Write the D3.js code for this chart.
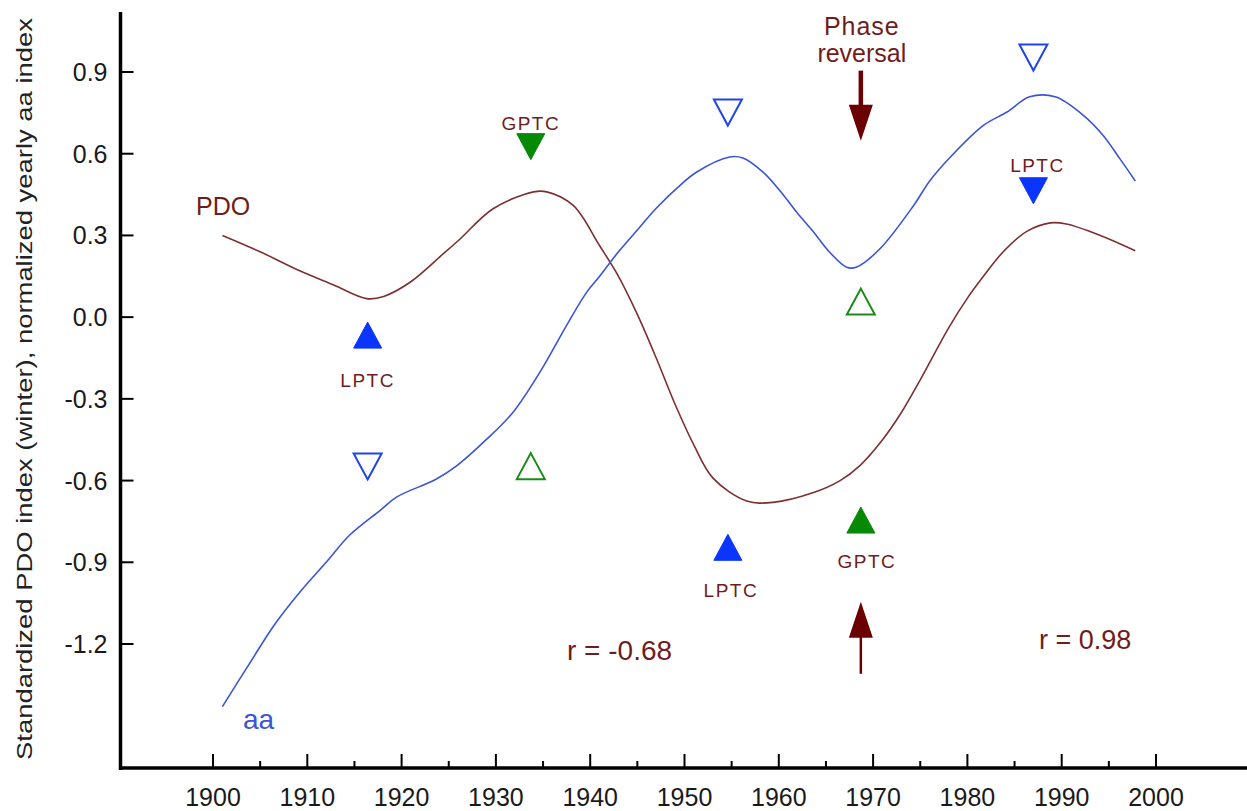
<!DOCTYPE html>
<html>
<head>
<meta charset="utf-8">
<script src="https://d3js.org/d3.v7.min.js"></script>
<style>
  body { margin: 0; background: white; }
  text { font-family: "Liberation Sans", Arial, sans-serif; }
</style>
</head>
<body>
<script>
var width = 1247;
var height = 811;

// PDO (winter), smoothed
var pdoYears  = [1901, 1905, 1909.2, 1912.8, 1916.3, 1918.1, 1920.9, 1924.4, 1926.2, 1929.7, 1934.0, 1935.4, 1938.2, 1941.0, 1943, 1945, 1947, 1949, 1951, 1953, 1956.6, 1959.4, 1963.6, 1966.5, 1968.6, 1971, 1973, 1975, 1978, 1980, 1981.7, 1983.8, 1986.3, 1988.8, 1990.5, 1994.1, 1997.8];
var pdoValues = [0.30, 0.24, 0.17, 0.118, 0.068, 0.076, 0.128, 0.232, 0.287, 0.398, 0.46, 0.46, 0.41, 0.262, 0.15, 0.01, -0.15, -0.32, -0.47, -0.59, -0.675, -0.68, -0.645, -0.6, -0.545, -0.45, -0.35, -0.23, -0.04, 0.07, 0.15, 0.24, 0.315, 0.346, 0.342, 0.30, 0.244];

// normalized yearly aa index, smoothed
var aaYears  = [1901, 1903.9, 1906.5, 1909.2, 1912, 1914.5, 1917.7, 1919.5, 1923.6, 1925.8, 1929.0, 1931.8, 1934.7, 1937.5, 1939.6, 1941.0, 1943, 1945, 1947, 1949.5, 1951.3, 1954.8, 1956.2, 1958.3, 1960.1, 1961.9, 1963.7, 1965.4, 1967.2, 1968.2, 1970.7, 1974.3, 1976, 1978.2, 1981.7, 1984.2, 1986.6, 1989.3, 1992.3, 1994.4, 1996.2, 1997.8];
var aaValues = [-1.43, -1.27, -1.13, -1.01, -0.90, -0.80, -0.71, -0.66, -0.596, -0.547, -0.449, -0.35, -0.20, -0.03, 0.09, 0.15, 0.24, 0.32, 0.40, 0.483, 0.533, 0.588, 0.584, 0.533, 0.465, 0.385, 0.312, 0.238, 0.183, 0.183, 0.25, 0.41, 0.50, 0.588, 0.704, 0.753, 0.809, 0.809, 0.741, 0.667, 0.58, 0.50];

// triangle markers
var markerYears  = [1916.4, 1916.4, 1933.7, 1933.7, 1954.6, 1968.7, 1968.7, 1954.6, 1987.0, 1987.0];
var markerValues = [-0.066, -0.548, 0.626, -0.547, 0.751, 0.057, -0.745, -0.845, 0.953, 0.464];
var markerDirs   = ["up", "down", "down", "up", "down", "up", "up", "up", "down", "down"];
var markerKinds  = ["blueFill", "blueOpen", "greenFill", "greenOpen", "blueOpen", "greenOpen", "greenFill", "blueFill", "blueOpen", "blueFill"];
var markerLabels = ["LPTC", "", "GPTC", "", "", "", "GPTC", "LPTC", "", "LPTC"];
var labelOffsets = [[0, 45], [0, 0], [0, -24], [0, 0], [0, 0], [0, 0], [6, 41], [3, 43], [0, 0], [4, -26]];

var xTicks = d3.range(1900, 2001, 10);
var xMinor = d3.range(1905, 2000, 10);
var yTicks = [-1.2, -0.9, -0.6, -0.3, 0.0, 0.3, 0.6, 0.9];

var phaseYear = 1968.7;
var arrowTipTop = 0.648;
var arrowTipBottom = -1.045;

var brown = "#701c1c";
var arrowColor = "#6a0000";
var pdoColor = "#7d3030";
var aaColor = "#3a55d6";
var styles = {
  blueFill:  {fill: "#0a35ff", stroke: "#0a35ff"},
  blueOpen:  {fill: "white",   stroke: "#1f45e6"},
  greenFill: {fill: "#068a06", stroke: "#068a06"},
  greenOpen: {fill: "white",   stroke: "#1a8a1a"}
};

var x = d3.scaleLinear().domain([1900, 2000]).range([213, 1156]);
var y = d3.scaleLinear().domain([-1.2, 0.9]).range([644, 72]);

var svg = d3.select("body")
  .append("svg")
  .attr("width", width)
  .attr("height", height);

// Axes
var xAxis = svg.append("g").attr("transform", "translate(0,768)");
xAxis.append("line").attr("x1", 119).attr("x2", width).attr("stroke", "black").attr("stroke-width", 3.5);
xAxis.selectAll(".major").data(xTicks).enter().append("line")
  .attr("x1", d => x(d)).attr("x2", d => x(d))
  .attr("y1", 0).attr("y2", -14)
  .attr("stroke", "black").attr("stroke-width", 2);
xAxis.selectAll(".minor").data(xMinor).enter().append("line")
  .attr("x1", d => x(d)).attr("x2", d => x(d))
  .attr("y1", 0).attr("y2", -7)
  .attr("stroke", "black").attr("stroke-width", 2);
xAxis.selectAll("text").data(xTicks).enter().append("text")
  .attr("x", d => x(d)).attr("y", 38)
  .attr("text-anchor", "middle")
  .attr("font-size", 25)
  .attr("fill", "#1a1a1a")
  .text(d => d);

var yAxis = svg.append("g").attr("transform", "translate(120.5,0)");
yAxis.append("line").attr("y1", 12).attr("y2", 770).attr("stroke", "black").attr("stroke-width", 3.5);
yAxis.selectAll(".tick").data(yTicks).enter().append("line")
  .attr("x1", 0).attr("x2", 13)
  .attr("y1", d => y(d)).attr("y2", d => y(d))
  .attr("stroke", "black").attr("stroke-width", 2);
yAxis.selectAll("text").data(yTicks).enter().append("text")
  .attr("x", -13).attr("y", d => y(d) + 9)
  .attr("text-anchor", "end")
  .attr("font-size", 25)
  .attr("fill", "#1a1a1a")
  .text(d => d.toFixed(1));

svg.append("text")
  .attr("transform", "translate(32,389) rotate(-90)")
  .attr("text-anchor", "middle")
  .attr("font-size", 22)
  .attr("fill", "#222")
  .attr("textLength", 742)
  .attr("lengthAdjust", "spacingAndGlyphs")
  .text("Standardized PDO index (winter), normalized  yearly aa index");

// Curves
var line = d3.line().x(d => x(d[0])).y(d => y(d[1])).curve(d3.curveCatmullRom);

svg.append("path")
  .datum(d3.zip(pdoYears, pdoValues))
  .attr("d", line)
  .attr("fill", "none")
  .attr("stroke", pdoColor)
  .attr("stroke-width", 1.6);

svg.append("path")
  .datum(d3.zip(aaYears, aaValues))
  .attr("d", line)
  .attr("fill", "none")
  .attr("stroke", aaColor)
  .attr("stroke-width", 1.6);

// Triangles
function tri(dir) {
  var w = 14, h = 13;
  return dir == "up"
    ? "M0," + (-h) + "L" + w + "," + h + "L" + (-w) + "," + h + "Z"
    : "M0," + h + "L" + w + "," + (-h) + "L" + (-w) + "," + (-h) + "Z";
}

var marks = svg.append("g").selectAll("g")
  .data(markerYears.map((d, i) => i))
  .enter()
  .append("g")
  .attr("transform", i => "translate(" + x(markerYears[i]) + "," + y(markerValues[i]) + ")");

marks.append("path")
  .attr("d", i => tri(markerDirs[i]))
  .attr("fill", i => styles[markerKinds[i]].fill)
  .attr("stroke", i => styles[markerKinds[i]].stroke)
  .attr("stroke-width", i => markerKinds[i].indexOf("Open") > 0 ? 2 : 1);

marks.append("text")
  .attr("x", i => labelOffsets[i][0])
  .attr("y", i => labelOffsets[i][1] + 7)
  .attr("text-anchor", "middle")
  .attr("font-size", 19)
  .attr("letter-spacing", 1.5)
  .attr("fill", brown)
  .text(i => markerLabels[i]);

// Phase reversal arrows
var ax = x(phaseYear);
var tipTop = y(arrowTipTop);
svg.append("line").attr("x1", ax).attr("x2", ax).attr("y1", tipTop - 70).attr("y2", tipTop - 30)
  .attr("stroke", arrowColor).attr("stroke-width", 4.5);
svg.append("path")
  .attr("d", "M" + ax + "," + tipTop + "L" + (ax + 12) + "," + (tipTop - 36) + "L" + (ax - 12) + "," + (tipTop - 36) + "Z")
  .attr("fill", arrowColor);

var tipBot = y(arrowTipBottom);
svg.append("line").attr("x1", ax).attr("x2", ax).attr("y1", tipBot + 30).attr("y2", tipBot + 72)
  .attr("stroke", arrowColor).attr("stroke-width", 2.5);
svg.append("path")
  .attr("d", "M" + ax + "," + tipBot + "L" + (ax + 12) + "," + (tipBot + 36) + "L" + (ax - 12) + "," + (tipBot + 36) + "Z")
  .attr("fill", arrowColor);

svg.append("text").attr("x", ax + 1).attr("y", 35)
  .attr("text-anchor", "middle").attr("font-size", 25).attr("letter-spacing", 1).attr("fill", brown)
  .text("Phase");
svg.append("text").attr("x", ax + 1).attr("y", 62)
  .attr("text-anchor", "middle").attr("font-size", 25).attr("fill", brown)
  .text("reversal");

// Series labels and correlations
svg.append("text").attr("x", 196).attr("y", 215)
  .attr("font-size", 25).attr("fill", brown).text("PDO");
svg.append("text").attr("x", 243).attr("y", 729)
  .attr("font-size", 28).attr("fill", aaColor).text("aa");
svg.append("text").attr("x", 567).attr("y", 660)
  .attr("font-size", 28).attr("fill", brown).text("r = -0.68");
svg.append("text").attr("x", 1039).attr("y", 649)
  .attr("font-size", 27).attr("fill", brown).text("r = 0.98");
</script>
</body>
</html>
